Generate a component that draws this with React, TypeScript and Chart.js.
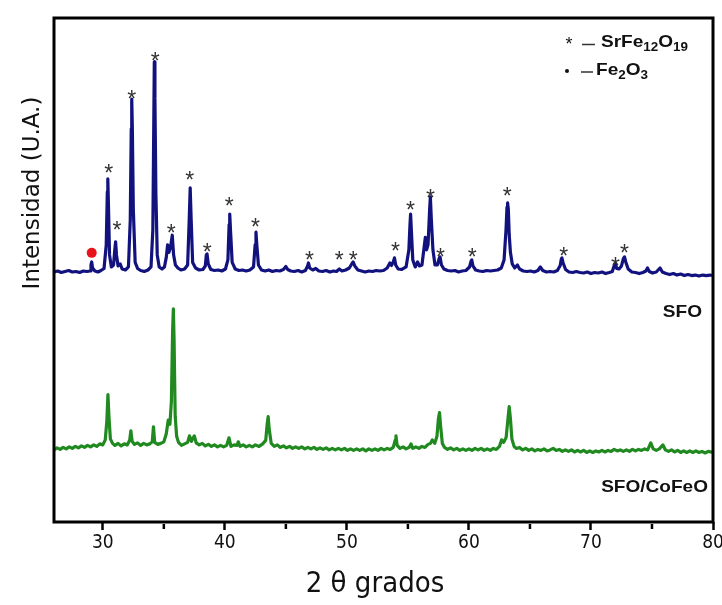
import React, { useEffect, useRef } from 'react';
import { Chart, registerables } from 'chart.js';

Chart.register(...registerables);

// ---- Data (2θ in degrees, intensity in arbitrary units, traces offset) ----
const sfoAngle = [
  26.0, 26.3, 26.6, 26.9, 27.2, 27.5, 27.8, 28.1, 28.4, 28.7, 28.95, 29.03, 29.09, 29.16, 29.35, 29.6, 29.85,
  30.1, 30.28, 30.37, 30.41, 30.46, 30.55, 30.7, 30.88, 30.98, 31.05, 31.12, 31.25, 31.42, 31.58, 31.85,
  32.1, 32.25, 32.33, 32.37, 32.42, 32.5, 32.65, 32.85, 33.1, 33.4, 33.7, 33.95, 34.1, 34.18, 34.22, 34.27,
  34.35, 34.46, 34.62, 34.85, 35.05, 35.2, 35.31, 35.42, 35.55, 35.69, 35.8, 35.95, 36.15, 36.4, 36.7,
  36.95, 37.08, 37.16, 37.24, 37.36, 37.6, 37.9, 38.2, 38.4, 38.48, 38.54, 38.64, 38.85, 39.15, 39.45,
  39.75, 40.05, 40.25, 40.35, 40.4, 40.46, 40.6, 40.85, 41.15, 41.45, 41.75, 42.05, 42.35, 42.48, 42.55,
  42.62, 42.75, 43.0, 43.3, 43.6, 43.9, 44.2, 44.5, 44.8, 45.0, 45.15, 45.4, 45.7, 46.0, 46.3, 46.6, 46.78,
  46.85, 46.95, 47.2, 47.45, 47.7, 48.0, 48.3, 48.6, 48.9, 49.15, 49.38, 49.6, 49.9, 50.2, 50.42, 50.51,
  50.65, 50.9, 51.2, 51.5, 51.8, 52.1, 52.4, 52.7, 53.0, 53.3, 53.52, 53.65, 53.8, 53.9, 54.0, 54.2, 54.5,
  54.85, 55.08, 55.17, 55.22, 55.28, 55.4, 55.6, 55.79, 55.95, 56.15, 56.33, 56.43, 56.53, 56.65, 56.78,
  56.84, 56.92, 57.05, 57.22, 57.42, 57.56, 57.63, 57.75, 57.95, 58.25, 58.55, 58.85, 59.15, 59.45, 59.75,
  60.05, 60.18, 60.23, 60.33, 60.55, 60.85, 61.15, 61.45, 61.75, 62.05, 62.35, 62.65, 62.88, 63.04, 63.12,
  63.17, 63.23, 63.3, 63.4, 63.55, 63.75, 63.97, 64.15, 64.45, 64.75, 65.05, 65.35, 65.65, 65.85, 66.05,
  66.35, 66.65, 66.95, 67.25, 67.48, 67.57, 67.62, 67.72, 67.92, 68.2, 68.5, 68.8, 69.1, 69.4, 69.7, 70.0,
  70.3, 70.6, 70.9, 71.2, 71.5, 71.75, 71.92, 72.0, 72.1, 72.3, 72.5, 72.65, 72.75, 72.85, 73.05, 73.35,
  73.65, 73.95, 74.25, 74.5, 74.63, 74.78, 75.05, 75.35, 75.66, 75.85, 76.15, 76.45, 76.75, 77.05, 77.35,
  77.65, 77.95, 78.25, 78.55, 78.85, 79.15, 79.45, 79.75, 80.0,
];
const sfoIntensity = [
  49.6, 49.8, 49.5, 49.7, 49.9, 49.6, 49.7, 49.5, 49.8, 49.7, 49.8, 51.0, 51.6, 50.4, 49.8, 49.6, 49.9,
  50.3, 55.0, 65.5, 68.1, 63.0, 53.0, 50.6, 51.0, 54.0, 55.6, 53.0, 50.8, 51.2, 50.2, 50.0,
  50.6, 60.0, 78.0, 83.9, 78.0, 62.0, 51.5, 50.3, 49.9, 49.7, 50.0, 50.6, 58.0, 80.0, 91.3, 84.0,
  65.0, 53.0, 50.6, 50.2, 50.6, 52.5, 55.0, 53.5, 54.5, 56.9, 53.0, 51.0, 50.4, 50.0, 50.2,
  51.0, 60.0, 66.3, 60.0, 51.5, 50.4, 50.0, 50.1, 50.8, 53.0, 53.2, 51.2, 50.1, 49.9, 50.0,
  49.8, 50.2, 52.0, 59.0, 61.1, 58.0, 51.5, 50.2, 49.9, 50.0, 49.8, 50.0, 50.6, 55.0, 57.5,
  55.0, 51.0, 50.0, 49.8, 50.0, 49.7, 49.9, 49.8, 50.1, 50.7, 50.1, 49.8, 49.7, 49.9, 49.6, 49.9, 50.8,
  51.4, 50.4, 50.0, 50.3, 49.8, 49.7, 49.9, 49.6, 49.8, 49.7, 50.2, 49.8, 50.0, 50.4, 51.3, 51.6,
  50.8, 50.0, 49.8, 49.6, 49.8, 49.7, 49.9, 49.8, 49.9, 50.4, 51.4, 50.9, 51.6, 52.4, 51.0, 50.2, 50.1,
  50.6, 54.0, 59.0, 61.1, 58.0, 52.0, 50.6, 51.6, 50.8, 51.0, 54.5, 56.5, 54.0, 55.0, 62.0,
  64.5, 60.0, 54.0, 51.0, 51.0, 52.3, 52.6, 51.0, 50.2, 49.9, 49.8, 49.9, 49.6, 49.8, 49.9,
  50.6, 51.8, 52.0, 50.8, 50.0, 49.8, 49.7, 49.9, 49.8, 49.9, 50.0, 50.4, 52.0, 58.0, 62.5,
  63.3, 62.0, 57.0, 53.5, 51.2, 50.4, 51.0, 50.2, 49.8, 49.7, 49.8, 49.6, 49.9, 50.6, 49.9,
  49.6, 49.7, 49.6, 49.9, 50.9, 52.2, 52.4, 51.4, 50.1, 49.6, 49.5, 49.7, 49.5, 49.4, 49.6, 49.3,
  49.5, 49.4, 49.6, 49.3, 49.5, 49.7, 51.0, 51.4, 50.3, 50.2, 50.8, 52.2, 52.6, 51.6, 50.2, 49.6,
  49.5, 49.3, 49.5, 49.8, 50.4, 49.7, 49.4, 49.6, 50.4, 49.6, 49.3, 49.1, 49.3, 49.0, 49.2,
  48.9, 49.1, 48.9, 49.0, 48.8, 49.0, 48.9, 49.0, 48.9,
];

const cofeoAngle = [
  26.0, 26.25, 26.5, 26.75, 27.0, 27.25, 27.5, 27.75, 28.0, 28.25, 28.5, 28.75, 29.0, 29.25, 29.5, 29.75,
  30.0, 30.2, 30.33, 30.42, 30.5, 30.62, 30.8, 31.0, 31.25, 31.5, 31.75, 32.0, 32.2, 32.3, 32.4, 32.6,
  32.85, 33.1, 33.35, 33.6, 33.85, 34.05, 34.15, 34.25, 34.5, 34.75, 35.0, 35.2, 35.36, 35.5, 35.62,
  35.72, 35.78, 35.84, 35.93, 36.05, 36.2, 36.45, 36.7, 36.95, 37.1, 37.25, 37.5, 37.65, 37.9, 38.15,
  38.4, 38.65, 38.9, 39.15, 39.4, 39.65, 39.9, 40.15, 40.34, 40.5, 40.75, 41.0, 41.1, 41.25, 41.5, 41.75,
  42.0, 42.25, 42.5, 42.8, 43.1, 43.35, 43.47, 43.55, 43.63, 43.8, 44.05, 44.3, 44.55, 44.8, 45.05, 45.3,
  45.55, 45.8, 46.05, 46.3, 46.55, 46.8, 47.05, 47.3, 47.55, 47.8, 48.05, 48.3, 48.55, 48.8, 49.05, 49.3,
  49.55, 49.8, 50.05, 50.3, 50.55, 50.8, 51.05, 51.3, 51.55, 51.8, 52.05, 52.3, 52.55, 52.8, 53.05, 53.3,
  53.55, 53.8, 53.95, 54.02, 54.12, 54.35, 54.6, 54.85, 55.1, 55.25, 55.4, 55.65, 55.9, 56.15, 56.4,
  56.65, 56.85, 57.0, 57.2, 57.38, 57.5, 57.59, 57.68, 57.82, 58.0, 58.25, 58.5, 58.75, 59.0, 59.25, 59.5,
  59.75, 60.0, 60.25, 60.5, 60.75, 61.0, 61.25, 61.5, 61.75, 62.0, 62.25, 62.5, 62.68, 62.85, 63.05, 63.2,
  63.3, 63.4, 63.52, 63.7, 63.9, 64.15, 64.4, 64.65, 64.9, 65.15, 65.4, 65.65, 65.9, 66.15, 66.4, 66.65,
  66.9, 67.15, 67.4, 67.65, 67.9, 68.15, 68.4, 68.65, 68.9, 69.15, 69.4, 69.65, 69.9, 70.15, 70.4, 70.65,
  70.9, 71.15, 71.4, 71.65, 71.9, 72.15, 72.4, 72.65, 72.9, 73.15, 73.4, 73.65, 73.9, 74.15, 74.4, 74.65,
  74.9, 75.1, 75.35, 75.6, 75.9, 76.1, 76.35, 76.6, 76.85, 77.1, 77.35, 77.6, 77.85, 78.1, 78.35, 78.6,
  78.85, 79.1, 79.35, 79.6, 80.0,
];
const cofeoIntensity = [
  14.3, 14.7, 14.4, 14.8, 14.5, 14.9, 14.6, 15.0, 14.7, 15.1, 14.8, 15.2, 14.9, 15.3, 15.0, 15.5,
  15.3, 16.3, 20.0, 25.3, 21.0, 16.5, 15.6, 15.2, 15.6, 15.1, 15.5, 15.3, 16.2, 18.1, 16.0, 15.4,
  15.7, 15.2, 15.6, 15.3, 15.5, 15.9, 18.9, 15.8, 15.4, 15.6, 15.9, 17.5, 20.2, 19.4, 24.0,
  38.0, 42.3, 36.0, 21.0, 17.0, 15.8, 15.2, 15.5, 15.8, 17.1, 16.0, 17.1, 15.7, 15.3, 15.6,
  15.1, 15.4, 15.0, 15.3, 14.9, 15.2, 14.9, 15.2, 16.7, 15.0, 15.3, 15.2, 15.9, 15.0, 15.3, 14.9,
  15.2, 14.9, 15.3, 15.0, 15.5, 16.2, 19.5, 20.9, 18.5, 15.6, 15.0, 15.3, 14.8, 15.1, 14.7, 15.0,
  14.6, 14.9, 14.6, 14.9, 14.5, 14.8, 14.5, 14.8, 14.4, 14.7, 14.4, 14.7, 14.3, 14.6, 14.3, 14.6,
  14.3, 14.6, 14.2, 14.5, 14.2, 14.5, 14.2, 14.5, 14.1, 14.5, 14.2, 14.5, 14.2, 14.6, 14.3, 14.6,
  14.4, 14.8, 16.2, 17.1, 15.2, 14.6, 14.9, 14.5, 14.8, 15.5, 14.6, 14.9, 14.6, 15.0, 14.8,
  15.4, 15.6, 16.3, 15.6, 17.0, 20.5, 21.7, 19.0, 15.6, 14.8, 14.4, 14.7, 14.3, 14.6, 14.2, 14.5,
  14.2, 14.5, 14.2, 14.6, 14.3, 14.6, 14.2, 14.5, 14.2, 14.6, 14.4, 15.0, 16.3, 15.8, 16.8, 20.5,
  22.9, 20.5, 16.5, 15.0, 14.6, 14.8, 14.3, 14.6, 14.2, 14.5, 14.1, 14.4, 14.2, 14.5, 14.1, 14.3,
  14.6, 14.2, 14.4, 14.0, 14.3, 14.0, 14.3, 13.9, 14.2, 13.9, 14.2, 13.8, 14.1, 13.8, 14.1, 13.9,
  14.2, 13.9, 14.2, 14.0, 14.4, 14.1, 14.3, 14.0, 14.3, 14.0, 14.4, 14.1, 14.4, 14.2, 14.5, 14.3,
  15.7, 14.5, 14.2, 14.5, 15.3, 14.3, 14.0, 14.3, 13.9, 14.2, 13.8, 14.1, 13.8, 14.1, 13.8, 14.1,
  13.8, 14.0, 13.7, 14.0, 13.8,
];

// SrFe12O19 reflection markers (*) and Fe2O3 marker (•)
const starAngle = [30.48, 31.16, 32.37, 34.3, 35.61, 37.12, 38.56, 40.36, 42.51, 46.93, 49.38, 50.51, 53.98, 55.22, 56.84, 57.67, 60.27, 63.14, 67.77, 72.0, 72.75];
const starIntensity = [70.2, 58.9, 84.9, 92.5, 58.3, 68.8, 54.6, 63.6, 59.6, 53.0, 53.0, 53.0, 54.8, 62.8, 65.3, 53.6, 53.5, 65.7, 53.8, 51.8, 54.3];
const fe2o3Angle = [29.09];
const fe2o3Intensity = [53.4];

const xMajorTicks = [30, 40, 50, 60, 70, 80];
const xMinorTicks = [35, 45, 55, 65, 75];

const toPoints = (xs: number[], ys: number[]) => xs.map((x, i) => ({ x, y: ys[i] }));

function drawChem(ctx: CanvasRenderingContext2D, parts: [string, boolean][], x: number, y: number, size: number, subSize: number, sx: number) {
  ctx.save();
  ctx.translate(x, y);
  ctx.scale(sx, 1);
  let cx = 0;
  for (const [t, sub] of parts) {
    ctx.font = `bold ${sub ? subSize : size}px "Liberation Sans", Arial, sans-serif`;
    ctx.fillText(t, cx, sub ? 4 : 0);
    cx += ctx.measureText(t).width;
  }
  ctx.restore();
}

function drawScaled(ctx: CanvasRenderingContext2D, t: string, x: number, y: number, font: string, sx: number, align: CanvasTextAlign) {
  ctx.save();
  ctx.translate(x, y);
  ctx.scale(sx, 1);
  ctx.font = font;
  ctx.textAlign = align;
  ctx.fillText(t, 0, 0);
  ctx.restore();
}

const decorPlugin = {
  id: 'decor',
  afterDatasetsDraw(chart: any) {
    const { ctx, chartArea: a, scales } = chart;
    const xs = scales.x;
    const ys = scales.y;
    ctx.save();
    // reflection markers
    ctx.fillStyle = '#333';
    ctx.font = '23px "Liberation Sans", Arial, sans-serif';
    ctx.textAlign = 'center';
    ctx.textBaseline = 'alphabetic';
    starAngle.forEach((t, i) => {
      ctx.fillText('*', xs.getPixelForValue(t), ys.getPixelForValue(starIntensity[i]) + 13);
    });
    // frame
    ctx.strokeStyle = '#000';
    ctx.lineWidth = 3;
    ctx.strokeRect(a.left, a.top, a.right - a.left, a.bottom - a.top);
    // minor ticks
    ctx.lineWidth = 2.5;
    xMinorTicks.forEach((v) => {
      const px = xs.getPixelForValue(v);
      ctx.beginPath();
      ctx.moveTo(px, a.bottom + 2);
      ctx.lineTo(px, a.bottom + 7);
      ctx.stroke();
    });
    // legend
    ctx.fillStyle = '#111';
    ctx.textAlign = 'center';
    ctx.font = '18px "Liberation Sans", Arial, sans-serif';
    ctx.fillText('*', 569, 50);
    ctx.textAlign = 'left';
    ctx.beginPath();
    ctx.arc(567, 71, 2, 0, Math.PI * 2);
    ctx.fill();
    ctx.strokeStyle = '#333';
    ctx.lineWidth = 1.3;
    ctx.beginPath();
    ctx.moveTo(582, 44.5);
    ctx.lineTo(595, 44.5);
    ctx.moveTo(581, 72);
    ctx.lineTo(593, 72);
    ctx.stroke();
    drawChem(ctx, [['SrFe', false], ['12', true], ['O', false], ['19', true]], 601, 47, 17, 12, 1.12);
    drawChem(ctx, [['Fe', false], ['2', true], ['O', false], ['3', true]], 596, 75, 17, 12, 1.12);
    // sample labels
    drawScaled(ctx, 'SFO', 702, 317, 'bold 17px "Liberation Sans", Arial, sans-serif', 1.12, 'right');
    drawScaled(ctx, 'SFO/CoFeO', 708, 492, 'bold 17px "Liberation Sans", Arial, sans-serif', 1.12, 'right');
    // axis titles
    ctx.fillStyle = '#111';
    ctx.font = '29px "DejaVu Sans Condensed", "DejaVu Sans", sans-serif';
    ctx.textAlign = 'center';
    ctx.fillText('2 θ grados', 375, 592);
    ctx.translate(39, 193);
    ctx.rotate(-Math.PI / 2);
    ctx.font = '23px "DejaVu Sans", sans-serif';
    ctx.fillText('Intensidad (U.A.)', 0, 0);
    ctx.restore();
  },
};

export default function App() {
  const ref = useRef<HTMLCanvasElement>(null);
  useEffect(() => {
    if (!ref.current) return;
    const chart = new Chart(ref.current, {
      type: 'line',
      data: {
        datasets: [
          {
            label: 'SFO',
            data: toPoints(sfoAngle, sfoIntensity),
            borderColor: '#12127f',
            borderWidth: 3.2,
            borderJoinStyle: 'round',
            borderCapStyle: 'round',
            pointRadius: 0,
            tension: 0,
          },
          {
            label: 'SFO/CoFeO',
            data: toPoints(cofeoAngle, cofeoIntensity),
            borderColor: '#208a20',
            borderWidth: 3.2,
            borderJoinStyle: 'round',
            borderCapStyle: 'round',
            pointRadius: 0,
            tension: 0,
          },
          {
            type: 'scatter',
            label: 'Fe2O3',
            data: toPoints(fe2o3Angle, fe2o3Intensity),
            backgroundColor: '#e8141c',
            borderWidth: 0,
            pointRadius: 5,
          } as any,
        ],
      },
      options: {
        responsive: false,
        animation: false,
        layout: { padding: { left: 54, top: 18, right: 9, bottom: 0 } },
        plugins: { legend: { display: false }, tooltip: { enabled: false }, title: { display: false } },
        scales: {
          x: {
            type: 'linear',
            min: 26,
            max: 80,
            afterBuildTicks: (axis: any) => {
              axis.ticks = xMajorTicks.map((v) => ({ value: v }));
            },
            afterFit: (axis: any) => {
              axis.height = 83;
              axis.paddingRight = 0;
              axis.paddingLeft = 0;
            },
            grid: {
              display: true,
              drawOnChartArea: false,
              drawTicks: true,
              tickLength: 8,
              tickWidth: 2.5,
              tickColor: '#000',
            },
            border: { display: false },
            ticks: {
              color: '#111',
              padding: 2,
              maxRotation: 0,
              autoSkip: false,
              font: { family: '"DejaVu Sans Condensed", "DejaVu Sans", sans-serif', size: 19 },
              callback: (v: any) => String(v),
            },
          },
          y: { display: false, min: 0, max: 100 },
        },
      },
      plugins: [decorPlugin],
    });
    return () => chart.destroy();
  }, []);
  return (
    <div style={{ position: 'fixed', left: 0, top: 0, width: 722, height: 605, background: '#fff' }}>
      <canvas ref={ref} width={722} height={605} style={{ width: 722, height: 605 }} />
    </div>
  );
}
